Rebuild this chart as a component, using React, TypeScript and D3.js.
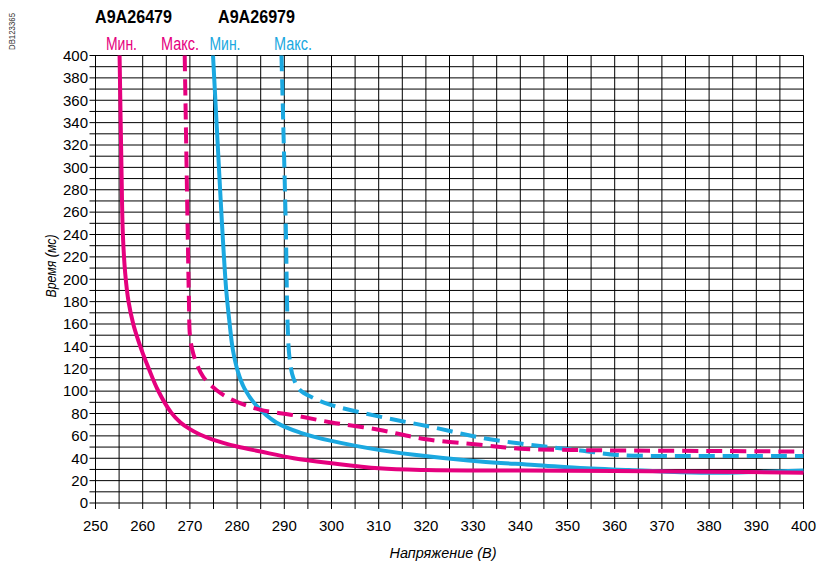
import React from "react";
import * as d3 from "d3";

const xTicks = [250, 260, 270, 280, 290, 300, 310, 320, 330, 340, 350, 360, 370, 380, 390, 400];
const yTicks = [0, 20, 40, 60, 80, 100, 120, 140, 160, 180, 200, 220, 240, 260, 280, 300, 320, 340, 360, 380, 400];

// A9A26479 – Мин.
const pinkMinV = [255.1, 255.5, 255.8, 256.3, 257.0, 258.0, 259.0, 260.0, 261.3, 263.2, 266.0, 268.0, 270.0, 272.0, 275, 280, 285, 292, 300, 310, 320, 340, 360, 380, 400];
const pinkMinT = [400, 300, 240, 205, 180, 160, 146, 134, 120, 101, 81, 72, 66, 61.5, 56.5, 50.5, 46, 40, 35.5, 31, 29.5, 29, 28.5, 28, 27];
// A9A26479 – Макс.
const pinkMaxV = [268.9, 269.5, 269.8, 270.0, 270.5, 271.3, 272.8, 275.6, 279.1, 284.8, 291.9, 300, 310, 320, 331.5, 340, 349, 360, 380, 400];
const pinkMaxT = [400, 250, 180, 150, 137, 126, 113, 101, 92, 83.5, 78.5, 72, 65.5, 57, 52, 48.5, 47.5, 47, 46.5, 46];
// A9A26979 – Мин.
const blueMinV = [274.9, 276.4, 277.0, 277.7, 278.4, 279.1, 280.2, 281.6, 284.1, 288.3, 293.3, 300, 310, 320.8, 331.5, 343, 354, 363, 374, 384, 392, 400];
const blueMinT = [400, 280, 235, 190, 161, 137, 117, 102, 87, 72, 63, 55.5, 47.5, 41.5, 37, 34, 31, 29.5, 27.5, 27, 28, 29];
// A9A26979 – Макс.
const blueMaxV = [289.4, 290.3, 290.7, 291.1, 291.9, 293.3, 296.1, 299.6, 310.2, 320.8, 331.5, 342.1, 352.7, 360.5, 370, 380, 400];
const blueMaxT = [400, 250, 160, 130, 112, 101, 94, 88, 77.2, 68.3, 58.5, 52, 47, 43, 42, 42, 42];

const PINK = "#E5007E";
const BLUE = "#1BA8E0";

export default function App() {
  const x = d3.scaleLinear().domain([250, 400]).range([95.5, 803.5]);
  const y = d3.scaleLinear().domain([0, 400]).range([503, 55.5]);
  const line = d3
    .line<[number, number]>()
    .x((d) => x(d[0]))
    .y((d) => y(d[1]))
    .curve(d3.curveCatmullRom.alpha(0.5));
  const zip = (a: number[], b: number[]) => a.map((v, i) => [v, b[i]] as [number, number]);

  const vLines = d3.range(250, 401, 5);
  const hLines = d3.range(0, 401, 10);
  const font = "'Liberation Sans', Arial, Helvetica, sans-serif";

  const series = [
    { v: blueMaxV, t: blueMaxT, c: BLUE, dash: "16 8" },
    { v: blueMinV, t: blueMinT, c: BLUE, dash: null },
    { v: pinkMaxV, t: pinkMaxT, c: PINK, dash: "16 8" },
    { v: pinkMinV, t: pinkMinT, c: PINK, dash: null },
  ];

  return (
    <svg
      width={817}
      height={563}
      style={{ position: "absolute", left: 0, top: 0, background: "#fff" }}
      fontFamily={font}
    >
      <rect width={817} height={563} fill="#fff" />
      {vLines.map((v) => (
        <line key={"v" + v} x1={x(v)} x2={x(v)} y1={y(400)} y2={y(0) + 6} stroke="#000" strokeWidth={1} />
      ))}
      {hLines.map((t) => (
        <line key={"h" + t} x1={x(250) - 6} x2={x(400)} y1={y(t)} y2={y(t)} stroke="#000" strokeWidth={1} />
      ))}
      {series.map((s, i) => (
        <path
          key={i}
          d={line(zip(s.v, s.t)) || ""}
          fill="none"
          stroke={s.c}
          strokeWidth={4}
          strokeDasharray={s.dash || undefined}
        />
      ))}
      {xTicks.map((v) => (
        <text key={"xt" + v} x={x(v)} y={531} fontSize={15} textAnchor="middle" fill="#000">
          {v}
        </text>
      ))}
      {yTicks.map((t) => (
        <text key={"yt" + t} x={88} y={y(t) + 5.3} fontSize={15} textAnchor="end" fill="#000">
          {t}
        </text>
      ))}
      <text x={443} y={558} fontSize={15} fontStyle="italic" textAnchor="middle" textLength={107} lengthAdjust="spacingAndGlyphs">
        Напряжение (В)
      </text>
      <text
        transform="translate(56,266) rotate(-90)"
        fontSize={14}
        fontStyle="italic"
        textAnchor="middle"
        textLength={63}
        lengthAdjust="spacingAndGlyphs"
      >
        Время (мс)
      </text>
      <text x={95} y={22.5} fontSize={18} fontWeight="bold" textLength={77} lengthAdjust="spacingAndGlyphs">
        A9A26479
      </text>
      <text x={218} y={22.5} fontSize={18} fontWeight="bold" textLength={77} lengthAdjust="spacingAndGlyphs">
        A9A26979
      </text>
      <text x={106} y={50} fontSize={17.5} fill={PINK} textLength={31} lengthAdjust="spacingAndGlyphs">
        Мин.
      </text>
      <text x={161} y={50} fontSize={17.5} fill={PINK} textLength={38} lengthAdjust="spacingAndGlyphs">
        Макс.
      </text>
      <text x={209.5} y={50} fontSize={17.5} fill={BLUE} textLength={31} lengthAdjust="spacingAndGlyphs">
        Мин.
      </text>
      <text x={274} y={50} fontSize={17.5} fill={BLUE} textLength={38} lengthAdjust="spacingAndGlyphs">
        Макс.
      </text>
      <text
        transform="translate(15,50) rotate(-90)"
        fontSize={9}
        fill="#333"
        textLength={37}
        lengthAdjust="spacingAndGlyphs"
      >
        DB123365
      </text>
    </svg>
  );
}
